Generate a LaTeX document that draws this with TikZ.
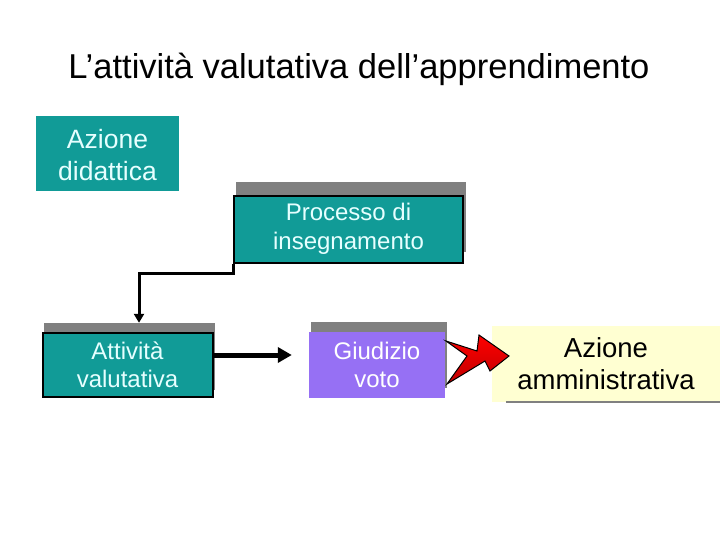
\documentclass[tikz,border=0pt]{standalone}
\usepackage{fontspec}
\setmainfont{Liberation Sans}
\usetikzlibrary{arrows.meta}
\definecolor{tealbox}{HTML}{119B97}
\definecolor{tealtext}{HTML}{E6FFFF}
\definecolor{purplebox}{HTML}{9670F4}
\definecolor{shadowgray}{HTML}{808080}
\definecolor{yellowbox}{HTML}{FFFFD2}
\tikzset{
  boxtext/.style={align=center, inner sep=0pt, text=tealtext},
  shadowbox/.style={fill=shadowgray, draw=none, inner sep=0pt},
  mainbox/.style={fill=tealbox, draw=black, line width=2pt, inner sep=0pt},
}
\begin{document}
\begin{tikzpicture}[x=1pt,y=-1pt]
\useasboundingbox (0,0) rectangle (720,540);
% title
\node[inner sep=0pt, font=\fontsize{34.5}{40}\selectfont] (title) at (359,69) {L’attività valutativa dell’apprendimento};
% Azione didattica
\node[fill=tealbox, inner sep=0pt, minimum width=143pt, minimum height=75pt] (did) at (107.5,153.5) {};
\node[boxtext, font=\fontsize{26.5}{32}\selectfont] (didt) at (107.5,155) {Azione\\didattica};
% Processo di insegnamento
\node[shadowbox, minimum width=230pt, minimum height=70pt] (procsh) at (351,217) {};
\node[mainbox, minimum width=229pt, minimum height=66pt] (proc) at (348.5,229.5) {};
\node[boxtext, font=\fontsize{24}{29}\selectfont] (proct) at (348.5,229) {Processo di\\insegnamento};
% Attivita valutativa
\node[shadowbox, minimum width=171pt, minimum height=67pt] (attsh) at (129.5,356.5) {};
\node[mainbox, minimum width=170pt, minimum height=64pt] (att) at (127.5,364.5) {};
\node[boxtext, font=\fontsize{24}{28}\selectfont] (attt) at (127.5,365) {Attività\\valutativa};
% Giudizio voto
\node[shadowbox, minimum width=136pt, minimum height=66pt] (giush) at (379,355) {};
\node[fill=purplebox, inner sep=0pt, minimum width=136pt, minimum height=66pt] (giu) at (377,365) {};
\node[boxtext, text=white, font=\fontsize{24}{28}\selectfont] (giut) at (377,365) {Giudizio\\voto};
% Azione amministrativa
\node[fill=yellowbox, inner sep=0pt, minimum width=228pt, minimum height=76pt] (amm) at (606,364) {};
\draw[shadowgray, line width=2pt] ([xshift=14pt]amm.south west) -- (amm.south east);
\node[align=center, inner sep=0pt, font=\fontsize{27.5}{32}\selectfont] (ammt) at (606,364) {Azione\\amministrativa};
% connectors
\draw[line width=3pt, -{Triangle[width=10pt,length=9pt]}] (proc.south west) -- ++(0,10) -| ([xshift=9.5pt]attsh.north);
\draw[line width=5pt, -{Triangle[width=15pt,length=14pt]}] ([yshift=9.5pt]att.east) -- ([xshift=-17pt,yshift=10pt]giu.west);
% red block arrow
\draw[top color=red, bottom color=red!75!black, draw=black, line width=1pt, line join=miter]
  (446,341) -- (477,351) -- (479,335) -- (509,356) -- (490,371) -- (485,361) -- (447,384) -- (467,356) -- cycle;
\end{tikzpicture}
\end{document}
